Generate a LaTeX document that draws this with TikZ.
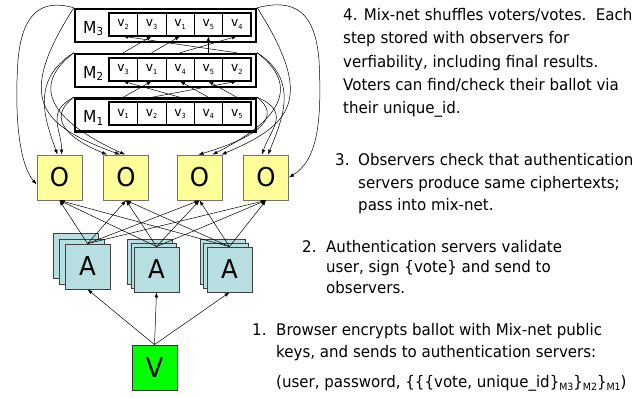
\documentclass[tikz,border=0pt]{standalone}
\usepackage{fontspec}
\setmainfont{DejaVu Sans}[FakeStretch=0.94]
\usetikzlibrary{arrows.meta,calc}
\definecolor{oyel}{RGB}{255,255,153}
\definecolor{ablue}{RGB}{183,222,224}
\definecolor{vgreen}{RGB}{0,255,0}
\newcommand{\vv}[1]{v\raisebox{-2.5pt}{\fontsize{7}{7}\selectfont #1}}
\newcommand{\mm}[1]{M\raisebox{-2.5pt}{\fontsize{11}{11}\selectfont #1}}
\newcommand{\subm}[1]{\raisebox{-3.5pt}{\fontsize{10}{10}\selectfont #1}}
\tikzset{
 mixbox/.style={draw, line width=2.4pt, fill=white, minimum width=181pt, minimum height=33pt, inner sep=0pt},
 inbox/.style={draw, line width=2pt, minimum width=142pt, minimum height=23pt, inner sep=0pt},
 cell/.style={draw, line width=0.6pt, minimum width=28.4pt, minimum height=23pt, inner sep=0pt, font=\fontsize{13}{13}\selectfont},
 mlab/.style={anchor=base west, inner sep=0pt, font=\fontsize{16.5}{16.5}\selectfont},
 obox/.style={draw=black!55, fill=oyel, minimum size=45pt, inner sep=0pt, line width=0.8pt, font=\fontsize{26}{26}\selectfont},
 abox/.style={draw=black!75, fill=ablue, minimum size=45pt, inner sep=0pt, line width=0.8pt, font=\fontsize{26}{26}\selectfont},
 vbox/.style={draw=black!80, fill=vgreen, minimum size=45pt, inner sep=0pt, line width=0.8pt, font=\fontsize{27}{27}\selectfont},
 arr/.style={-{Latex[length=5pt,width=3.6pt]}, line width=0.5pt},
 txt/.style={anchor=base west, inner sep=0pt, font=\fontsize{16}{16}\selectfont},
}
\begin{document}
\begin{tikzpicture}[x=1pt,y=-1pt]
\useasboundingbox (0,0) rectangle (639,398);
% mix boxes
\node[mixbox] (m3) at (165.5,25.5) {};
\node[mixbox] (m2) at (165.5,70.5) {};
\node[mixbox] (m1) at (165.5,115) {};
\node[mlab] (m3lab) at (83,33.3) {\mm{3}};
\node[mlab] (m2lab) at (83,78.3) {\mm{2}};
\node[mlab] (m1lab) at (83,122.8) {\mm{1}};
\foreach \lab [count=\i] in {2,3,1,5,4}
  \node[cell] (m3c\i) at ({109+28.4*(\i-0.5)},24.5) {\vv{\lab}};
\foreach \lab [count=\i] in {3,1,4,5,2}
  \node[cell] (m2c\i) at ({109+28.4*(\i-0.5)},69.5) {\vv{\lab}};
\foreach \lab [count=\i] in {1,2,3,4,5}
  \node[cell] (m1c\i) at ({109+28.4*(\i-0.5)},114) {\vv{\lab}};
\node[inbox] (m3in) at (180,24.5) {};
\node[inbox] (m2in) at (180,69.5) {};
\node[inbox] (m1in) at (180,114) {};
% shuffles
\foreach \s/\t in {1/2,2/5,3/1,4/3,5/4}
  \draw[arr] (m1c\s |- m1.north) -- (m2c\t.south);
\foreach \s/\t in {1/2,2/3,3/5,4/4,5/1}
  \draw[arr] (m2c\s |- m2.north) -- (m3c\t.south);
% observers
\node[obox] (o1) at (59.5,177.5) {O};
\node[obox] (o2) at (126,177.5) {O};
\node[obox] (o3) at (199.5,177.5) {O};
\node[obox] (o4) at (266,177.5) {O};
% authentication servers
\node[abox] (a1b) at (75.5,255.5) {};
\node[abox] (a1m) at (81.5,261.5) {};
\node[abox] (a1) at (87.5,266.5) {A};
\node[abox] (a2b) at (149.5,261.5) {};
\node[abox] (a2m) at (153.5,265.5) {};
\node[abox] (a2) at (156.5,269.5) {A};
\node[abox] (a3b) at (222.5,261.5) {};
\node[abox] (a3m) at (225.5,265.5) {};
\node[abox] (a3) at (229.5,269.5) {A};
% voter
\node[vbox] (v) at (154.5,367.5) {V};
% V -> A
\foreach \a in {a1,a2,a3}
  \draw[arr] (v.north) -- (\a.south);
% A -> O
\foreach \a in {a1,a2,a3}
  \foreach \o in {o1,o2,o3,o4}
    \draw[arr] (\a.north) -- (\o.south);
% mix-net -> observers (left)
\draw[arr] (m3.north west) .. controls (40,-2) and (22,15) .. (18,60)
   .. controls (14,120) and (20,165) .. ($(o1.west)+(0,7)$);
\draw[arr] (m3.north west) .. controls (15,100) and (40,125) .. ($(o2.north)+(-6,0)$);
\draw[arr] (m2.north west) .. controls (30,80) and (45,120) .. ($(o1.north)+(-2,0)$);
\draw[arr] (m2.north west) .. controls (25,90) and (60,125) .. ($(o2.north)+(-1,0)$);
\draw[arr] (m1.north west) .. controls (45,112) and (62,130) .. ($(o1.north)+(2,0)$);
\draw[arr] (m1.north west) .. controls (50,115) and (60,135) .. ($(o2.north)+(-19,0)$);
% mix-net -> observers (right)
\draw[arr] (m3.north east) .. controls (295,-2) and (315,12) .. (319,60)
   .. controls (322,120) and (318,160) .. (o4.east);
\draw[arr] (m3.north east) .. controls (316,100) and (291,125) .. ($(o3.north)+(22,0)$);
\draw[arr] (m2.north east) .. controls (300,80) and (282,120) .. ($(o4.north)+(2,0)$);
\draw[arr] (m2.north east) .. controls (306,90) and (271,125) .. ($(o3.north)+(13,0)$);
\draw[arr] (m1.north east) .. controls (292,112) and (270,130) .. ($(o4.north)+(-4,0)$);
\draw[arr] (m1.north east) .. controls (280,115) and (265,135) .. ($(o3.north)+(-1,0)$);
% text block 4
\node[txt] (t4a) at (343,20.5) {4. Mix-net shuffles voters/votes.\ \ Each};
\node[txt] (t4b) at (343,44) {step stored with observers for};
\node[txt] (t4c) at (343,67.5) {verfiability, including final results.};
\node[txt] (t4d) at (343,91) {Voters can find/check their ballot via};
\node[txt] (t4e) at (343,114) {their unique\_id.};
% text block 3
\node[txt] (n3) at (335,166) {3.};
\node[txt] (t3a) at (358,166) {Observers check that authentication};
\node[txt] (t3b) at (358,188) {servers produce same ciphertexts;};
\node[txt] (t3c) at (358,210) {pass into mix-net.};
% text block 2
\node[txt] (n2) at (302,252) {2.};
\node[txt] (t2a) at (326,252) {Authentication servers validate};
\node[txt] (t2b) at (326,272.5) {user, sign \{vote\} and send to};
\node[txt] (t2c) at (326,293) {observers.};
% text block 1
\node[txt] (n1) at (252,335) {1.};
\node[txt] (t1a) at (276,335) {Browser encrypts ballot with Mix-net public};
\node[txt] (t1b) at (276,357) {keys, and sends to authentication servers:};
\node[txt] (t1c) at (276,387) {(user, password, \{\{\{vote, unique\_id\}\subm{M3}\}\subm{M2}\}\subm{M1})};
\end{tikzpicture}
\end{document}
